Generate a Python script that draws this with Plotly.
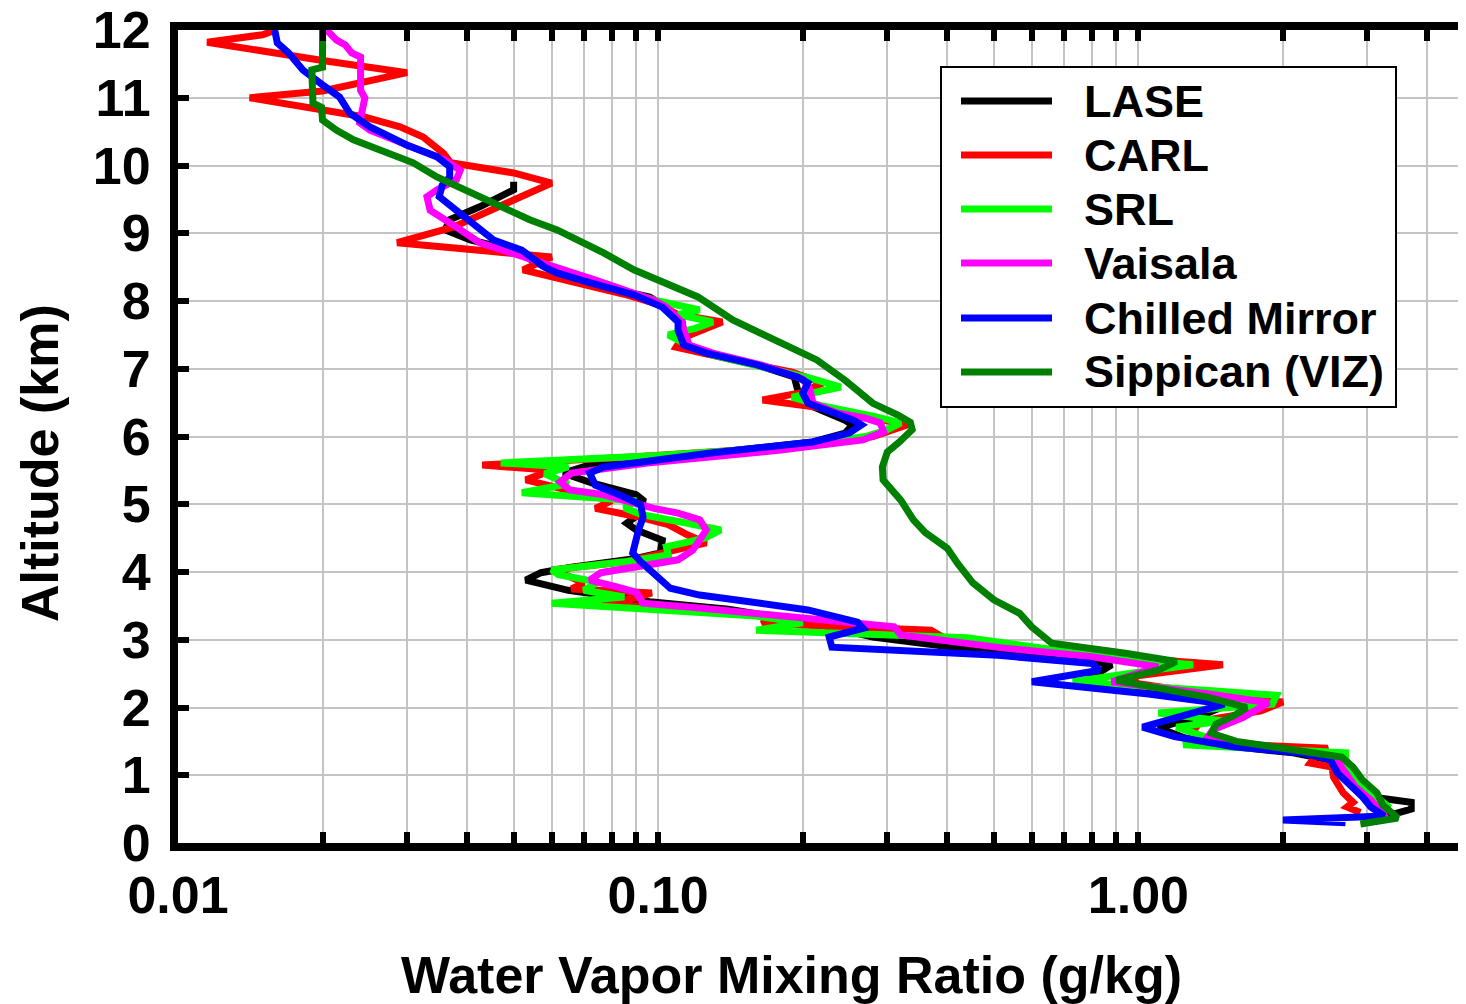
import plotly.graph_objects as go

# water vapor profiles, altitude (km) vs mixing ratio (g/kg)
series_names = ['LASE', 'CARL', 'SRL', 'Vaisala', 'Chilled Mirror', 'Sippican (VIZ)']
series_colors = ['#000000', '#ff0000', '#00ff00', '#ff00ff', '#0000ff', '#008000']

lase_alt = [0.40, 0.50, 0.60, 0.66, 0.83, 1.03, 1.23, 1.33, 1.42, 1.55, 1.70, 1.88, 2.05, 2.20, 2.40,
            2.63, 2.75, 2.90, 3.04, 3.26, 3.45, 3.56, 3.73, 3.88, 3.99, 4.07, 4.20, 4.28, 4.47, 4.62,
            4.72, 4.87, 5.06, 5.14, 5.31, 5.46, 5.58, 5.76, 5.92, 6.05, 6.17, 6.24, 6.35, 6.49, 6.64,
            6.72, 6.88, 7.06, 7.23, 7.35, 7.60, 7.72, 7.91, 8.06, 8.20, 8.41, 8.56, 8.75, 8.90, 9.05,
            9.20, 9.24, 9.39, 9.64, 9.76]
lase_wv = [3.30, 3.70, 3.70, 3.20, 2.80, 2.62, 2.48, 2.10, 1.60, 1.25, 1.10, 1.35, 1.55, 1.10, 0.78,
           0.88, 0.70, 0.40, 0.28, 0.205, 0.14, 0.096, 0.065, 0.053, 0.057, 0.066, 0.090, 0.101, 0.102, 0.090,
           0.086, 0.092, 0.093, 0.090, 0.073, 0.0635, 0.072, 0.13, 0.21, 0.245, 0.254, 0.245, 0.225, 0.202, 0.196,
           0.195, 0.192, 0.16, 0.125, 0.114, 0.113, 0.112, 0.104, 0.096, 0.078, 0.062, 0.056, 0.050, 0.0406, 0.036,
           0.0368, 0.038, 0.0425, 0.050, 0.050]

carl_alt = [0.45, 0.53, 0.60, 0.74, 0.97, 1.12, 1.18, 1.30, 1.40, 1.45, 1.55, 1.65, 1.80, 1.95, 2.08,
            2.20, 2.35, 2.45, 2.63, 2.75, 2.90, 3.00, 3.14, 3.24, 3.35, 3.45, 3.54, 3.62, 3.69, 3.75,
            3.84, 3.93, 4.03, 4.15, 4.30, 4.43, 4.55, 4.70, 4.82, 4.94, 5.05, 5.20, 5.36, 5.50, 5.58,
            5.70, 5.85, 6.00, 6.17, 6.30, 6.40, 6.54, 6.65, 6.79, 6.95, 7.10, 7.25, 7.32, 7.45, 7.60,
            7.69, 7.80, 7.95, 8.10, 8.30, 8.46, 8.65, 8.86, 9.09, 9.30, 9.49, 9.74, 9.89, 10.04, 10.18,
            10.42, 10.57, 10.72, 10.92, 11.00, 11.10, 11.37, 11.55, 11.70, 11.82, 11.93, 12.00]
carl_wv = [2.90, 2.72, 2.80, 2.67, 2.55, 2.53, 2.28, 2.35, 2.48, 1.70, 1.35, 1.30, 1.35, 1.80, 2.00,
           1.40, 1.00, 0.95, 1.50, 0.90, 0.55, 0.40, 0.37, 0.165, 0.17, 0.11, 0.076, 0.090, 0.097, 0.066,
           0.070, 0.0655, 0.060, 0.085, 0.105, 0.126, 0.115, 0.105, 0.090, 0.074, 0.080, 0.065, 0.053, 0.060, 0.043,
           0.090, 0.19, 0.28, 0.33, 0.27, 0.23, 0.165, 0.20, 0.22, 0.19, 0.15, 0.12, 0.109, 0.112, 0.125,
           0.136, 0.110, 0.100, 0.085, 0.065, 0.0523, 0.060, 0.0286, 0.0374, 0.044, 0.050, 0.060, 0.050, 0.0370, 0.0357,
           0.0324, 0.0290, 0.0243, 0.0163, 0.0141, 0.0200, 0.0300, 0.0200, 0.0150, 0.0115, 0.0150, 0.0160]

srl_alt = [0.40, 0.55, 0.70, 0.90, 1.10, 1.25, 1.33, 1.45, 1.55, 1.71, 1.80, 1.92, 2.05, 2.18, 2.25,
           2.38, 2.50, 2.63, 2.75, 2.90, 3.03, 3.14, 3.25, 3.35, 3.45, 3.54, 3.63, 3.73, 3.85, 3.96,
           4.03, 4.15, 4.25, 4.37, 4.50, 4.62, 4.72, 4.85, 4.95, 5.05, 5.17, 5.30, 5.45, 5.55, 5.61,
           5.72, 5.85, 6.00, 6.10, 6.20, 6.30, 6.45, 6.58, 6.73, 6.85, 7.00, 7.20, 7.35, 7.50, 7.60,
           7.69, 7.80, 7.87, 8.00, 8.15, 8.27]
srl_wv = [3.20, 3.30, 3.10, 2.90, 2.75, 2.70, 2.70, 1.24, 1.40, 1.20, 1.50, 1.10, 1.90, 1.94, 1.40,
          0.73, 0.95, 1.30, 0.85, 0.60, 0.44, 0.16, 0.20, 0.16, 0.10, 0.060, 0.085, 0.070, 0.075, 0.062,
          0.060, 0.085, 0.105, 0.104, 0.125, 0.135, 0.115, 0.092, 0.085, 0.090, 0.052, 0.065, 0.058, 0.065, 0.047,
          0.10, 0.19, 0.27, 0.30, 0.32, 0.28, 0.22, 0.19, 0.24, 0.21, 0.17, 0.13, 0.115, 0.105, 0.12,
          0.13, 0.11, 0.122, 0.10, 0.085, 0.077]

vaisala_alt = [0.30, 0.40, 0.63, 0.83, 1.08, 1.23, 1.35, 1.45, 1.58, 1.67, 1.85, 2.07, 2.20, 2.38, 2.60,
               2.75, 2.88, 3.07, 3.19, 3.26, 3.39, 3.47, 3.54, 3.70, 3.78, 3.88, 3.99, 4.07, 4.18, 4.32,
               4.62, 4.77, 4.87, 4.94, 5.14, 5.21, 5.33, 5.46, 5.61, 5.80, 5.95, 6.07, 6.20, 6.27, 6.35,
               6.49, 6.69, 6.85, 7.05, 7.23, 7.35, 7.57, 7.69, 7.91, 8.01, 8.31, 8.65, 8.86, 9.09, 9.34,
               9.54, 9.64, 9.79, 9.93, 10.08, 10.23, 10.33, 10.52, 10.63, 11.00, 11.11, 11.60, 11.66, 11.78, 11.85,
               12.00]
vaisala_wv = [3.10, 3.25, 3.05, 2.83, 2.67, 2.60, 2.20, 1.65, 1.40, 1.43, 1.65, 1.87, 1.40, 0.88, 1.10,
              0.80, 0.52, 0.32, 0.31, 0.25, 0.168, 0.122, 0.093, 0.090, 0.082, 0.072, 0.076, 0.088, 0.110, 0.118,
              0.126, 0.122, 0.110, 0.098, 0.077, 0.0655, 0.0625, 0.066, 0.095, 0.18, 0.267, 0.295, 0.29, 0.27, 0.235,
              0.21, 0.207, 0.20, 0.165, 0.13, 0.116, 0.113, 0.112, 0.104, 0.098, 0.074, 0.052, 0.0425, 0.038, 0.0335,
              0.033, 0.0346, 0.038, 0.0387, 0.036, 0.032, 0.0295, 0.0251, 0.0239, 0.0245, 0.0240, 0.0240, 0.0230, 0.0223, 0.0214,
              0.0204]

chilled_alt = [0.30, 0.34, 0.40, 0.53, 0.68, 0.83, 1.03, 1.23, 1.33, 1.42, 1.57, 1.71, 1.88, 2.05, 2.20,
               2.33, 2.38, 2.55, 2.65, 2.77, 2.89, 3.04, 3.17, 3.26, 3.44, 3.56, 3.66, 3.76, 3.93, 4.15,
               4.28, 4.47, 4.62, 4.81, 4.99, 5.14, 5.28, 5.46, 5.55, 5.76, 5.92, 6.05, 6.17, 6.24, 6.35,
               6.49, 6.64, 6.79, 6.88, 7.06, 7.23, 7.35, 7.57, 7.69, 7.91, 8.09, 8.27, 8.41, 8.50, 8.75,
               8.90, 9.09, 9.39, 9.54, 9.71, 9.83, 9.98, 10.13, 10.30, 10.42, 10.57, 10.77, 11.01, 11.19, 11.41,
               11.66, 11.81, 12.00]
chilled_wv = [2.70, 2.00, 3.25, 3.05, 2.93, 2.77, 2.60, 2.51, 2.18, 1.58, 1.19, 1.02, 1.25, 1.51, 1.05,
              0.71, 0.60, 0.83, 0.80, 0.51, 0.23, 0.227, 0.267, 0.26, 0.205, 0.155, 0.122, 0.106, 0.0995, 0.092,
              0.0885, 0.0895, 0.091, 0.093, 0.092, 0.083, 0.074, 0.072, 0.077, 0.13, 0.21, 0.25, 0.265, 0.255, 0.23,
              0.205, 0.20, 0.205, 0.195, 0.16, 0.126, 0.113, 0.11, 0.11, 0.102, 0.089, 0.072, 0.0617, 0.058, 0.052,
              0.0454, 0.042, 0.0368, 0.035, 0.0355, 0.0368, 0.0368, 0.0346, 0.030, 0.0277, 0.0251, 0.0228, 0.0217, 0.0200, 0.0182,
              0.0170, 0.0161, 0.0159]

sippican_alt = [0.28, 0.37, 0.56, 0.74, 0.93, 1.12, 1.27, 1.40, 1.50, 1.62, 1.75, 1.90, 2.00, 2.15, 2.30,
                2.40, 2.55, 2.68, 2.80, 2.95, 3.19, 3.39, 3.59, 3.84, 4.13, 4.35, 4.58, 4.77, 5.06, 5.36,
                5.55, 5.77, 5.92, 6.10, 6.21, 6.32, 6.49, 6.73, 6.83, 7.13, 7.42, 7.72, 8.06, 8.27, 8.46,
                8.71, 9.05, 9.20, 9.34, 9.59, 9.83, 10.04, 10.18, 10.27, 10.38, 10.52, 10.67, 10.86, 10.92, 11.41,
                11.45, 12.00]
sippican_wv = [2.90, 3.47, 3.23, 3.14, 2.93, 2.80, 2.65, 2.05, 1.60, 1.42, 1.45, 1.60, 1.68, 1.40, 1.05,
               0.90, 1.10, 1.20, 0.94, 0.66, 0.60, 0.566, 0.50, 0.452, 0.42, 0.40, 0.36, 0.34, 0.32, 0.294,
               0.293, 0.30, 0.318, 0.338, 0.335, 0.315, 0.28, 0.254, 0.245, 0.214, 0.174, 0.143, 0.121, 0.104, 0.089,
               0.077, 0.0616, 0.054, 0.049, 0.0406, 0.0346, 0.0309, 0.0273, 0.0251, 0.0232, 0.0214, 0.0200, 0.0199, 0.0191, 0.0190,
               0.0200, 0.0200]

profiles = [(lase_wv, lase_alt), (carl_wv, carl_alt), (srl_wv, srl_alt),
            (vaisala_wv, vaisala_alt), (chilled_wv, chilled_alt), (sippican_wv, sippican_alt)]

# x ticks: decades labelled, 2..9 only gridlines
x_tickvals = [0.01, 0.02, 0.03, 0.04, 0.05, 0.06, 0.07, 0.08, 0.09,
              0.1, 0.2, 0.3, 0.4, 0.5, 0.6, 0.7, 0.8, 0.9,
              1, 2, 3, 4]
x_ticktext = ['0.01' if v == 0.01 else '0.10' if v == 0.1 else '1.00' if v == 1 else '' for v in x_tickvals]
y_tickvals = list(range(0, 13))

# page has an 8px body margin, plot area lands at x 178..1474, y 30..843
W, H = 1466, 1004
L, R, T, B = 170, 0, 22, 169
OFF = 8
pw, ph = W - L - R, H - T - B

def px(x):
    return (x - OFF - L) / pw

def py(y):
    return (H - B - (y - OFF)) / ph

font = dict(family='Liberation Sans, Arial, sans-serif', color='black', weight='bold')

fig = go.Figure()
for (wv, alt), name, col in zip(profiles, series_names, series_colors):
    fig.add_trace(go.Scatter(x=wv, y=alt, mode='lines', name=name,
                             line=dict(color=col, width=7), showlegend=False))

fig.update_xaxes(type='log', range=[-2, 0.69897],
                 tickvals=x_tickvals, ticktext=x_ticktext,
                 ticks='inside', ticklen=11, tickwidth=6, tickcolor='black',
                 showline=True, linewidth=8, linecolor='black', mirror='ticks',
                 showgrid=True, gridcolor='#c4c4c4', gridwidth=2,
                 tickfont=dict(size=52, **font), ticklabelstandoff=0,
                 ticklabeloverflow='allow', automargin=False, zeroline=False)
fig.update_yaxes(range=[0, 12], tickvals=y_tickvals,
                 ticks='inside', ticklen=11, tickwidth=6, tickcolor='black',
                 showline=True, linewidth=8, linecolor='black', mirror='ticks',
                 showgrid=True, gridcolor='#c4c4c4', gridwidth=2,
                 tickfont=dict(size=52, **font), ticklabelstandoff=9,
                 ticklabeloverflow='allow', automargin=False, zeroline=False)

# axis titles
annotations = [
    dict(text='Water Vapor Mixing Ratio (g/kg)', x=px(791), y=py(975), xref='paper', yref='paper',
         xanchor='center', yanchor='middle', showarrow=False, font=dict(size=52, **font)),
    dict(text='Altitude (km)', x=px(40), y=py(463), xref='paper', yref='paper', textangle=-90,
         xanchor='center', yanchor='middle', showarrow=False, font=dict(size=52, **font)),
]

# legend drawn by hand to get the long line samples
shapes = [dict(type='rect', xref='paper', yref='paper', x0=px(941), x1=px(1396), y0=py(407), y1=py(67),
               line=dict(color='black', width=2), fillcolor='white', layer='above')]
legend_rows = [101, 155, 209, 263, 318, 372]
for name, col, ry in zip(series_names, series_colors, legend_rows):
    shapes.append(dict(type='line', xref='paper', yref='paper', x0=px(961), x1=px(1052),
                       y0=py(ry), y1=py(ry), line=dict(color=col, width=7), layer='above'))
    annotations.append(dict(text=name, x=px(1082), y=py(ry), xref='paper', yref='paper',
                            xanchor='left', yanchor='middle', showarrow=False,
                            font=dict(size=45, **font)))

fig.update_layout(width=W, height=H, margin=dict(l=L, r=R, t=T, b=B),
                  plot_bgcolor='white', paper_bgcolor='white',
                  shapes=shapes, annotations=annotations, showlegend=False)

fig.write_html('out.html')
